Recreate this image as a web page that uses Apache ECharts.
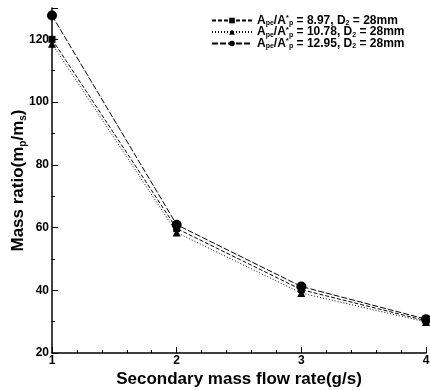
<!DOCTYPE html>
<html>
<head>
<meta charset="utf-8">
<script src="https://cdn.jsdelivr.net/npm/echarts@6/dist/echarts.min.js"></script>
<style>
  html, body { margin: 0; padding: 0; background: #fff; }
  #chart { width: 430px; height: 390px; }
</style>
</head>
<body>
<div id="chart"></div>
<script>
// secondary mass flow rate (g/s)
const flowRates = [1, 2, 3, 4];
// area ratios for each curve (legend)
const areaRatios = ["8.97", "10.78", "12.95"];
// mass ratio m_p/m_s
const ratio897 = [120, 59.7, 40.2, 30.3];
const ratio1078 = [118.6, 58.4, 39.1, 29.9];
const ratio1295 = [127.6, 60.9, 41.2, 30.8];

const chart = echarts.init(document.getElementById("chart"));

const font = "Liberation Sans, Arial, sans-serif";

function pairs(ys) {
  return flowRates.map((x, i) => [x, ys[i]]);
}

// bold text with sub/superscripts
const richText = (size) => ({
  b: { fontSize: size, fontWeight: "bold", fontFamily: font, color: "#000" },
  s: { fontSize: Math.round(size * 0.6), fontWeight: "bold", fontFamily: font, color: "#000", padding: [Math.round(size * 0.5), 0, 0, 0] },
  u: { fontSize: Math.round(size * 0.7), fontWeight: "bold", fontFamily: font, color: "#000", padding: [0, 0, Math.round(size * 0.45), 0] },
});

const option = {
  animation: false,
  grid: { left: 52, right: 4, top: 8, bottom: 37, outerBoundsMode: "none" },
  legend: {
    left: 206,
    top: 9,
    orient: "vertical",
    itemGap: -1.5,
    itemWidth: 40,
    itemHeight: 7,
    data: areaRatios,
    formatter: (name) =>
      "{b|A}{s|pe}{b|/A}{u|*}{s|p}{b| = " + name + ", D}{s|2}{b| = 28mm}",
    textStyle: {
      fontFamily: font,
      color: "#000",
      rich: richText(12),
    },
  },
  xAxis: {
    type: "value",
    min: 1,
    max: 4,
    interval: 1,
    name: "Secondary mass flow rate(g/s)",
    nameLocation: "middle",
    nameGap: 18,
    nameMoveOverlap: false,
    nameTextStyle: { fontFamily: font, fontSize: 17, fontWeight: "bold", color: "#000" },
    axisLine: { lineStyle: { color: "#000", width: 1.5 } },
    axisTick: { inside: true, length: 6, lineStyle: { color: "#000" } },
    minorTick: { show: true, splitNumber: 5, length: 3, lineStyle: { color: "#000" } },
    axisLabel: { fontFamily: font, fontSize: 12, fontWeight: "bold", color: "#000", margin: 2 },
    splitLine: { show: false },
  },
  yAxis: {
    type: "value",
    min: 20,
    max: 130,
    interval: 20,
    name: "{b|Mass ratio(m}{s|p}{b|/m}{s|s}{b|)}",
    nameLocation: "middle",
    nameGap: 24,
    nameMoveOverlap: false,
    nameTextStyle: { rich: richText(17) },
    axisLine: { show: true, lineStyle: { color: "#000", width: 1.5 } },
    axisTick: { show: true, inside: true, length: 6, lineStyle: { color: "#000" } },
    minorTick: { show: true, splitNumber: 2, length: 3, lineStyle: { color: "#000" } },
    axisLabel: {
      fontFamily: font, fontSize: 12, fontWeight: "bold", color: "#000", margin: 3,
      showMaxLabel: false,
    },
    splitLine: { show: false },
  },
  series: [
    {
      name: areaRatios[0],
      type: "line",
      data: pairs(ratio897),
      symbol: "rect",
      symbolSize: 7,
      itemStyle: { color: "#000" },
      lineStyle: { color: "#000", width: 1, type: [4, 2] },
    },
    {
      name: areaRatios[1],
      type: "line",
      data: pairs(ratio1078),
      symbol: "triangle",
      symbolSize: 8,
      itemStyle: { color: "#000" },
      lineStyle: { color: "#000", width: 1, type: [1, 2] },
    },
    {
      name: areaRatios[2],
      type: "line",
      data: pairs(ratio1295),
      symbol: "circle",
      symbolSize: 10,
      itemStyle: { color: "#000" },
      lineStyle: { color: "#000", width: 1, type: [6, 2] },
    },
  ],
};

chart.setOption(option);
</script>
</body>
</html>
